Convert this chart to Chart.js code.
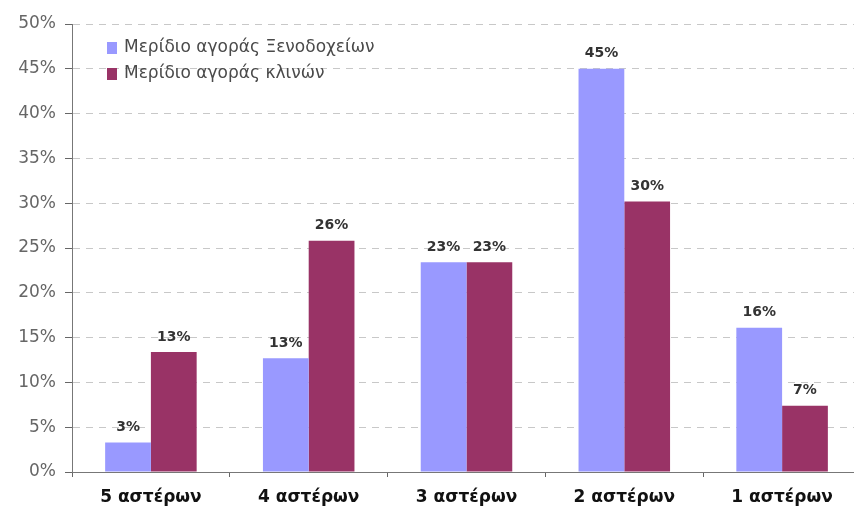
<!DOCTYPE html>
<html>
<head>
<meta charset="utf-8">
<script src="https://cdn.jsdelivr.net/npm/chart.js@4/dist/chart.umd.min.js"></script>
<style>
  html, body { margin: 0; padding: 0; background: #fff; overflow: hidden; }
  #wrap { width: 854px; height: 508px; overflow: hidden; position: relative; }
  #box { width: 861px; height: 508px; position: absolute; left: 0; top: 0; }
</style>
</head>
<body>
<div id="wrap"><div id="box"><canvas id="c"></canvas></div></div>
<script>
// Hotel categories by star rating
const categories = ['5 αστέρων', '4 αστέρων', '3 αστέρων', '2 αστέρων', '1 αστέρων'];
// Market share of hotels (%)
const hotelShare = [3.3, 12.7, 23.4, 45.0, 16.1];
// Market share of beds (%)
const bedShare = [13.4, 25.8, 23.4, 30.2, 7.4];
const seriesNames = ['Μερίδιο αγοράς Ξενοδοχείων', 'Μερίδιο αγοράς κλινών'];
const yTicks = [0, 5, 10, 15, 20, 25, 30, 35, 40, 45, 50];

const pct = v => Math.round(v) + '%';

// Legend drawn inside the plot area, top-left
const innerLegend = {
  id: 'innerLegend',
  afterDraw(chart) {
    const ctx = chart.ctx;
    const x0 = chart.chartArea.left + 35;
    let y = chart.chartArea.top + 24;
    ctx.save();
    ctx.font = '17px "DejaVu Sans"';
    ctx.textBaseline = 'middle';
    chart.data.datasets.forEach(ds => {
      ctx.fillStyle = ds.backgroundColor;
      ctx.fillRect(x0, y - 6, 10, 12);
      ctx.fillStyle = '#4a4a4a';
      ctx.fillText(ds.label, x0 + 17, y);
      y += 26;
    });
    ctx.restore();
  }
};

// Value labels above each bar
const valueLabels = {
  id: 'valueLabels',
  afterDatasetsDraw(chart) {
    const ctx = chart.ctx;
    ctx.save();
    ctx.font = 'bold 14px "DejaVu Sans"';
    ctx.fillStyle = '#333';
    ctx.textAlign = 'center';
    ctx.textBaseline = 'bottom';
    chart.data.datasets.forEach((ds, i) => {
      chart.getDatasetMeta(i).data.forEach((bar, j) => {
        ctx.fillText(pct(ds.data[j]), bar.x, bar.y - 8);
      });
    });
    ctx.restore();
  }
};

new Chart(document.getElementById('c'), {
  type: 'bar',
  data: {
    labels: categories,
    datasets: [
      { label: seriesNames[0], data: hotelShare, backgroundColor: '#9999ff' },
      { label: seriesNames[1], data: bedShare, backgroundColor: '#993366' }
    ]
  },
  options: {
    responsive: true,
    maintainAspectRatio: false,
    animation: false,
    layout: { padding: { top: 24, right: 0, left: 0, bottom: 0 } },
    categoryPercentage: 0.58,
    barPercentage: 1.0,
    plugins: { legend: { display: false }, tooltip: { enabled: false } },
    scales: {
      x: {
        afterFit(s) { s.height = 36; },
        grid: { offset: true, drawOnChartArea: false, drawTicks: true, tickLength: 5, tickColor: '#666' },
        border: { color: '#777', width: 1 },
        ticks: { color: '#111', font: { family: '"DejaVu Sans"', size: 17, weight: 'bold' }, padding: 10 }
      },
      y: {
        min: 0, max: 50,
        afterFit(s) { s.width = 72; },
        afterBuildTicks(s) { s.ticks = yTicks.map(v => ({ value: v })); },
        grid: { color: '#c8c8c8', tickLength: 7, tickColor: '#666', tickBorderDash: [] },
        border: { color: '#777', width: 1, dash: [7, 6] },
        ticks: { color: '#666', font: { family: '"DejaVu Sans"', size: 17 }, padding: 9, callback: v => v + '%' }
      }
    }
  },
  plugins: [innerLegend, valueLabels]
});
</script>
</body>
</html>
